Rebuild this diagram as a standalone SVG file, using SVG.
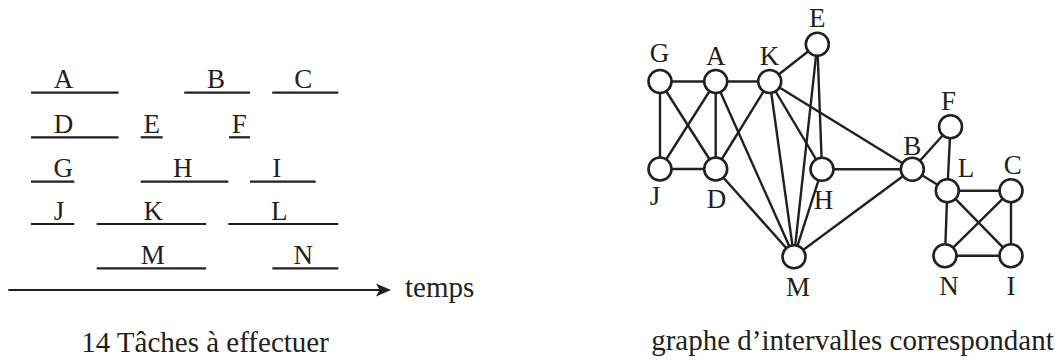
<svg xmlns="http://www.w3.org/2000/svg" width="1062" height="360" viewBox="0 0 1062 360">
  <style>
    .lbl { font-family: "Liberation Serif", "Times New Roman", serif; font-size: 27px; fill: #231f20; text-anchor: middle; }
    .cap { font-family: "Liberation Serif", "Times New Roman", serif; font-size: 29px; fill: #231f20; }
    .task { stroke: #231f20; stroke-width: 2.2; fill: none; }
    .edge { stroke: #231f20; stroke-width: 2.4; fill: none; }
    .node { stroke: #231f20; stroke-width: 2.6; fill: #ffffff; }
  </style>
  <rect width="1062" height="360" fill="#ffffff"/>

  <!-- task intervals on the time axis -->
  <g id="tasks">
    <g id="task-A"><line class="task" x1="31" y1="92.7" x2="118.5" y2="92.7"/><text class="lbl" x="63.5" y="88.3">A</text></g>
    <g id="task-B"><line class="task" x1="184.3" y1="92.7" x2="250" y2="92.7"/><text class="lbl" x="216" y="88.3">B</text></g>
    <g id="task-C"><line class="task" x1="272.3" y1="92.7" x2="338.3" y2="92.7"/><text class="lbl" x="303.3" y="88.3">C</text></g>
    <g id="task-D"><line class="task" x1="31" y1="137.3" x2="118.5" y2="137.3"/><text class="lbl" x="63.5" y="133">D</text></g>
    <g id="task-E"><line class="task" x1="140.7" y1="137.3" x2="162.7" y2="137.3"/><text class="lbl" x="151.7" y="133">E</text></g>
    <g id="task-F"><line class="task" x1="229" y1="137.3" x2="250" y2="137.3"/><text class="lbl" x="239.3" y="133">F</text></g>
    <g id="task-G"><line class="task" x1="31" y1="181.7" x2="74.3" y2="181.7"/><text class="lbl" x="63.3" y="177">G</text></g>
    <g id="task-H"><line class="task" x1="140.7" y1="181.7" x2="228.3" y2="181.7"/><text class="lbl" x="182.7" y="177">H</text></g>
    <g id="task-I"><line class="task" x1="250" y1="181.7" x2="315.7" y2="181.7"/><text class="lbl" x="276.7" y="177">I</text></g>
    <g id="task-J"><line class="task" x1="31" y1="224" x2="74.3" y2="224"/><text class="lbl" x="59" y="219.5">J</text></g>
    <g id="task-K"><line class="task" x1="96.7" y1="224" x2="206" y2="224"/><text class="lbl" x="153.3" y="219.5">K</text></g>
    <g id="task-L"><line class="task" x1="228.3" y1="224" x2="338.3" y2="224"/><text class="lbl" x="279.3" y="219.5">L</text></g>
    <g id="task-M"><line class="task" x1="96.7" y1="268.3" x2="206" y2="268.3"/><text class="lbl" x="152.7" y="263.5">M</text></g>
    <g id="task-N"><line class="task" x1="272.3" y1="268.3" x2="338.3" y2="268.3"/><text class="lbl" x="303.3" y="263.5">N</text></g>
  </g>

  <!-- time axis -->
  <g id="axis">
    <line class="task" x1="8.3" y1="290" x2="380" y2="290"/>
    <path d="M376,283.5 L391,290 L376,296.5 L379.5,290 Z" fill="#231f20"/>
    <text class="cap" x="405" y="297">temps</text>
  </g>

  <!-- graph edges -->
  <g id="connectors" class="edge">
    <line x1="660" y1="81.5" x2="715.7" y2="81.5"/>   <!-- G-A -->
    <line x1="715.7" y1="81.5" x2="769.7" y2="81.5"/> <!-- A-K -->
    <line x1="769.7" y1="81.5" x2="817.3" y2="44.3"/> <!-- K-E -->
    <line x1="660" y1="81.5" x2="660" y2="169"/>      <!-- G-J -->
    <line x1="660" y1="81.5" x2="715.7" y2="169"/>    <!-- G-D -->
    <line x1="715.7" y1="81.5" x2="660" y2="169"/>    <!-- A-J -->
    <line x1="715.7" y1="81.5" x2="715.7" y2="169"/>  <!-- A-D -->
    <line x1="715.7" y1="81.5" x2="794" y2="256.7"/>  <!-- A-M -->
    <line x1="660" y1="169" x2="715.7" y2="169"/>     <!-- J-D -->
    <line x1="769.7" y1="81.5" x2="715.7" y2="169"/>  <!-- K-D -->
    <line x1="769.7" y1="81.5" x2="794" y2="256.7"/>  <!-- K-M -->
    <line x1="769.7" y1="81.5" x2="822" y2="169.3"/>  <!-- K-H -->
    <line x1="769.7" y1="81.5" x2="912.3" y2="169.3"/><!-- K-B -->
    <line x1="817.3" y1="44.3" x2="822" y2="169.3"/>  <!-- E-H -->
    <line x1="817.3" y1="44.3" x2="794" y2="256.7"/>  <!-- E-M -->
    <line x1="715.7" y1="169" x2="794" y2="256.7"/>   <!-- D-M -->
    <line x1="822" y1="169.3" x2="794" y2="256.7"/>   <!-- H-M -->
    <line x1="822" y1="169.3" x2="912.3" y2="169.3"/> <!-- H-B -->
    <line x1="794" y1="256.7" x2="912.3" y2="169.3"/> <!-- M-B -->
    <line x1="912.3" y1="169.3" x2="950.5" y2="126.7"/><!-- B-F -->
    <line x1="912.3" y1="169.3" x2="947.3" y2="190.7"/><!-- B-L -->
    <line x1="950.5" y1="126.7" x2="947.3" y2="190.7"/><!-- F-L -->
    <line x1="947.3" y1="190.7" x2="1011" y2="190.7"/> <!-- L-C -->
    <line x1="947.3" y1="190.7" x2="945" y2="255.7"/>  <!-- L-N -->
    <line x1="947.3" y1="190.7" x2="1011" y2="255.7"/> <!-- L-I -->
    <line x1="1011" y1="190.7" x2="945" y2="255.7"/>   <!-- C-N -->
    <line x1="1011" y1="190.7" x2="1011" y2="255.7"/>  <!-- C-I -->
    <line x1="945" y1="255.7" x2="1011" y2="255.7"/>   <!-- N-I -->
  </g>

  <!-- graph vertices -->
  <g id="node-G"><circle class="node" cx="660" cy="81.5" r="11.5"/><text class="lbl" x="659.5" y="62">G</text></g>
  <g id="node-A"><circle class="node" cx="715.7" cy="81.5" r="11.5"/><text class="lbl" x="715.7" y="64.5">A</text></g>
  <g id="node-K"><circle class="node" cx="769.7" cy="81.5" r="11.5"/><text class="lbl" x="769.5" y="64.5">K</text></g>
  <g id="node-E"><circle class="node" cx="817.3" cy="44.3" r="11.5"/><text class="lbl" x="817.3" y="27">E</text></g>
  <g id="node-J"><circle class="node" cx="660" cy="169" r="11.5"/><text class="lbl" x="655" y="205">J</text></g>
  <g id="node-D"><circle class="node" cx="715.7" cy="169" r="11.5"/><text class="lbl" x="716.5" y="207.5">D</text></g>
  <g id="node-H"><circle class="node" cx="822" cy="169.3" r="11.5"/><text class="lbl" x="823.5" y="208.5">H</text></g>
  <g id="node-M"><circle class="node" cx="794" cy="256.7" r="11.5"/><text class="lbl" x="798" y="296">M</text></g>
  <g id="node-B"><circle class="node" cx="912.3" cy="169.3" r="11.5"/><text class="lbl" x="912.3" y="155">B</text></g>
  <g id="node-F"><circle class="node" cx="950.5" cy="126.7" r="11.5"/><text class="lbl" x="948.5" y="110">F</text></g>
  <g id="node-L"><circle class="node" cx="947.3" cy="190.7" r="11.5"/><text class="lbl" x="966" y="176.5">L</text></g>
  <g id="node-C"><circle class="node" cx="1011" cy="190.7" r="11.5"/><text class="lbl" x="1012.7" y="174">C</text></g>
  <g id="node-N"><circle class="node" cx="945" cy="255.7" r="11.5"/><text class="lbl" x="949" y="295">N</text></g>
  <g id="node-I"><circle class="node" cx="1011" cy="255.7" r="11.5"/><text class="lbl" x="1011" y="295">I</text></g>

  <!-- captions -->
  <text class="cap" x="205" y="352" text-anchor="middle">14 Tâches à effectuer</text>
  <text class="cap" x="852.5" y="350" text-anchor="middle">graphe d’intervalles correspondant</text>
</svg>
